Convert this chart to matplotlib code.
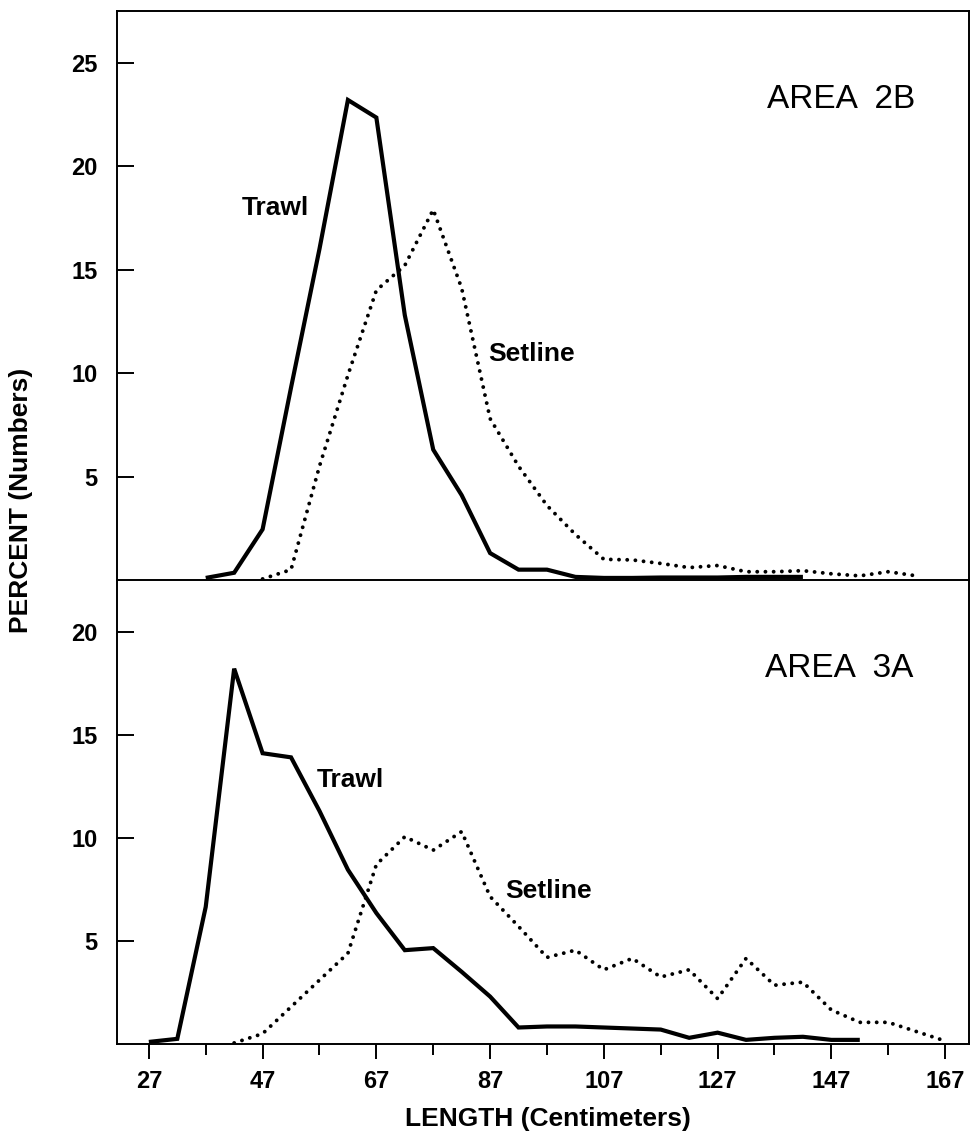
import matplotlib
matplotlib.use('Agg')
import matplotlib.pyplot as plt
from matplotlib.ticker import FixedLocator, NullFormatter

plt.rcParams['font.family'] = ['Liberation Sans', 'DejaVu Sans']

# Length classes (cm) and percent frequencies
# Area 2B
trawl_2b_len = [37, 42, 47, 52, 57, 62, 67, 72, 77, 82, 87, 92, 97, 102,
                107, 112, 117, 122, 127, 132, 137, 142]
trawl_2b_pct = [0.1, 0.35, 2.45, 9.3, 16.0, 23.2, 22.35, 12.8, 6.3, 4.1, 1.3, 0.5, 0.5, 0.15,
                0.1, 0.1, 0.12, 0.12, 0.12, 0.15, 0.15, 0.15]

setline_2b_len = [47, 52, 57, 62, 67, 72, 77, 82, 87, 92, 97, 102, 107, 112,
                  117, 122, 127, 132, 137, 142, 147, 152, 157, 162]
setline_2b_pct = [0.05, 0.5, 5.5, 9.9, 14.0, 15.2, 17.9, 14.1, 7.8, 5.5, 3.6, 2.2, 1.0, 0.97,
                  0.8, 0.6, 0.7, 0.4, 0.4, 0.45, 0.3, 0.2, 0.4, 0.2]

# Area 3A
trawl_3a_len = [27, 32, 37, 42, 47, 52, 57, 62, 67, 72, 77, 82, 87, 92,
                97, 102, 107, 112, 117, 122, 127, 132, 137, 142, 147, 152]
trawl_3a_pct = [0.1, 0.25, 6.65, 18.2, 14.1, 13.9, 11.3, 8.45, 6.35, 4.55, 4.65, 3.5, 2.3, 0.8,
                0.85, 0.85, 0.8, 0.75, 0.7, 0.3, 0.55, 0.2, 0.3, 0.35, 0.2, 0.2]

setline_3a_len = [42, 47, 52, 57, 62, 67, 72, 77, 82, 87, 92, 97, 102, 107,
                  112, 117, 122, 127, 132, 137, 142, 147, 152, 157, 162, 167]
setline_3a_pct = [0.05, 0.5, 1.8, 3.1, 4.4, 8.7, 10.05, 9.4, 10.3, 7.15, 5.7, 4.2, 4.55, 3.6,
                  4.15, 3.25, 3.6, 2.2, 4.15, 2.85, 3.0, 1.65, 1.05, 1.05, 0.6, 0.15]

major_x = [27, 47, 67, 87, 107, 127, 147, 167]
minor_x = [37, 57, 77, 97, 117, 137, 157]

W, H = 974, 1144
fig = plt.figure(figsize=(W / 100, H / 100), dpi=100)
left, right = 117 / W, 969 / W
ax1 = fig.add_axes([left, 1 - 580 / H, right - left, (580 - 11) / H])
ax2 = fig.add_axes([left, 1 - 1044 / H, right - left, (1044 - 580) / H])

solid_kw = dict(color='black', linewidth=3.0, solid_joinstyle='miter', solid_capstyle='butt')
dot_kw = dict(color='black', linewidth=2.8, linestyle=(0, (0.01, 2.1)), dash_capstyle='round')

ax1.plot(trawl_2b_len, trawl_2b_pct, **solid_kw)
ax1.plot(setline_2b_len, setline_2b_pct, **dot_kw)
ax2.plot(trawl_3a_len, trawl_3a_pct, **solid_kw)
ax2.plot(setline_3a_len, setline_3a_pct, **dot_kw)

ax1.set_ylim(0, 27.5)
ax2.set_ylim(0, 22.5)
ax1.set_yticks([5, 10, 15, 20, 25])
ax2.set_yticks([5, 10, 15, 20])

for ax in (ax1, ax2):
    ax.set_xlim(21.4, 171.2)
    ax.xaxis.set_major_locator(FixedLocator(major_x))
    ax.xaxis.set_minor_locator(FixedLocator(minor_x))
    for sp in ax.spines.values():
        sp.set_linewidth(1.4)
    ax.tick_params(axis='y', direction='in', length=12, width=1.4, pad=14,
                   labelsize=17)
    for lab in ax.get_yticklabels():
        lab.set_fontweight('bold')

ax1.spines['bottom'].set_visible(False)
ax1.tick_params(axis='x', which='both', direction='out', length=10, width=1.4,
                labelbottom=False)
ax2.tick_params(axis='x', which='major', direction='out', length=11, width=1.4,
                pad=8, labelsize=17)
ax2.tick_params(axis='x', which='minor', direction='out', length=8, width=1.4)
ax2.xaxis.set_minor_formatter(NullFormatter())
for lab in ax2.get_xticklabels():
    lab.set_fontweight('bold')

# Curve labels
txt = dict(fontsize=19, fontweight='bold', va='center', ha='left')
ax1.text(43.4, 18.0, 'Trawl', **txt)
ax1.text(86.6, 10.9, 'Setline', **txt)
ax1.text(135.7, 23.2, 'AREA  2B', fontsize=24, va='center', ha='left')
ax2.text(56.5, 12.8, 'Trawl', **txt)
ax2.text(89.6, 7.4, 'Setline', **txt)
ax2.text(135.4, 18.2, 'AREA  3A', fontsize=24, va='center', ha='left')

fig.text(0.022, 1 - 500 / H, 'PERCENT (Numbers)', rotation=90, ha='center', va='center',
         fontsize=19, fontweight='bold')
fig.text(548 / W, 1 - 1119 / H, 'LENGTH (Centimeters)', ha='center', va='center',
         fontsize=19, fontweight='bold')

fig.savefig('out.png', dpi=100, facecolor='white')
